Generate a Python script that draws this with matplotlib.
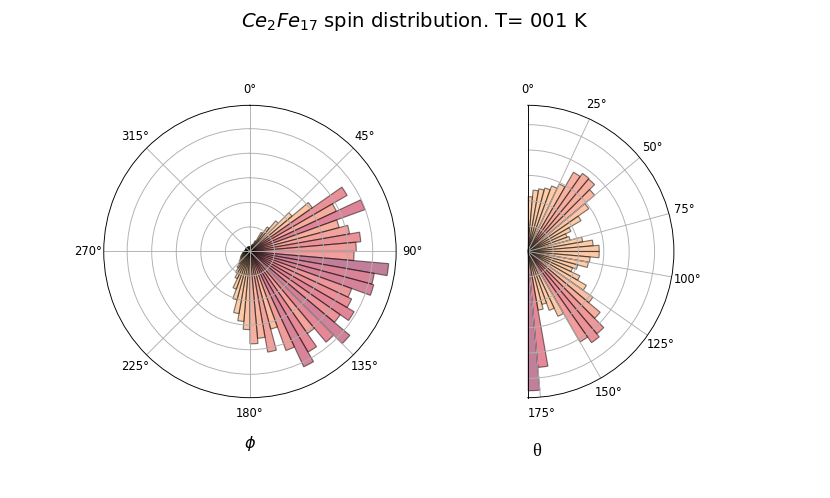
import matplotlib
matplotlib.use("Agg")
import matplotlib.pyplot as plt
from matplotlib.colors import LinearSegmentedColormap
import numpy as np

# 5 degree bins, phi over the full circle, theta over half of it
phi_centers = np.arange(2.5, 360, 5)
phi_counts = [
    2.0, 2.0, 2.4, 2.8, 3.2, 4.8, 9.0, 12.2, 16.3, 22.4,
    31.0, 45.7, 38.8, 49.8, 37.6, 41.2, 45.3, 43.3, 42.4, 56.7,
    51.4, 52.2, 44.1, 45.7, 49.0, 44.9, 53.1, 48.2, 40.8, 47.3,
    51.8, 42.9, 32.7, 41.6, 35.5, 37.6, 31.8, 28.6, 25.7, 20.4,
    16.3, 12.2, 10.2, 8.2, 6.5, 5.7, 4.9, 4.5, 4.1, 3.7,
    3.3, 3.0, 2.8, 2.6, 2.4, 2.2, 2.0, 2.0, 2.0, 2.0,
    2.0, 2.0, 2.0, 2.0, 2.0, 2.0, 2.0, 2.0, 2.0, 2.0,
    2.0, 2.0,
]
theta_centers = np.arange(2.5, 180, 5)
theta_counts = [
    21.6, 24.3, 25.1, 25.9, 27.5, 29.4, 36.1, 37.6, 37.3, 34.5,
    29.4, 24.3, 18.8, 16.5, 17.3, 22.0, 25.9, 28.2, 28.2, 24.7,
    24.3, 20.4, 18.8, 22.7, 26.7, 31.4, 37.3, 42.4, 43.9, 41.2,
    28.2, 24.7, 21.6, 23.5, 45.9, 54.9,
]

title = r"$Ce_2Fe_{17}$ spin distribution. T= 001 K"

# peach -> salmon -> pink -> mauve, drawn with some transparency
cmap = LinearSegmentedColormap.from_list("spins", [
    (0.0, "#fcb474"),
    (0.5, "#fcaa70"),
    (0.7, "#f0725e"),
    (0.85, "#d63552"),
    (1.0, "#9a2a55"),
])
face_alpha = 0.6
edge = (0, 0, 0, 0.5)


def colors_for(counts):
    c = np.asarray(counts)
    cols = cmap(c / c.max())
    cols[:, 3] = face_alpha
    return cols


fig = plt.figure(figsize=(10, 6), dpi=83)
fig.suptitle(title, fontsize=17)

ax1 = fig.add_subplot(1, 2, 1, projection="polar")
ax1.set_theta_zero_location("N")
ax1.set_theta_direction(-1)
ax1.bar(np.radians(phi_centers), phi_counts, width=np.radians(5), bottom=0.0,
        color=colors_for(phi_counts), edgecolor=edge, linewidth=1)
ax1.set_yticklabels([])
ax1.set_xlabel(r"$\phi$", fontsize=14, labelpad=12)

ax2 = fig.add_subplot(1, 2, 2, projection="polar")
ax2.set_theta_zero_location("N")
ax2.set_theta_direction(-1)
ax2.set_thetamin(0)
ax2.set_thetamax(180)
ax2.bar(np.radians(theta_centers), theta_counts, width=np.radians(5), bottom=0.0,
        color=colors_for(theta_counts), edgecolor=edge, linewidth=1)
ax2.set_xticks(np.radians(np.arange(0, 180, 25)))
ax2.set_yticklabels([])
ax2.set_xlabel("θ", fontsize=16, family="Liberation Serif")
ax2.xaxis.set_label_coords(537 / 830, 1 - 443 / 498, transform=fig.transFigure)

fig.savefig("out.png", dpi=83)
